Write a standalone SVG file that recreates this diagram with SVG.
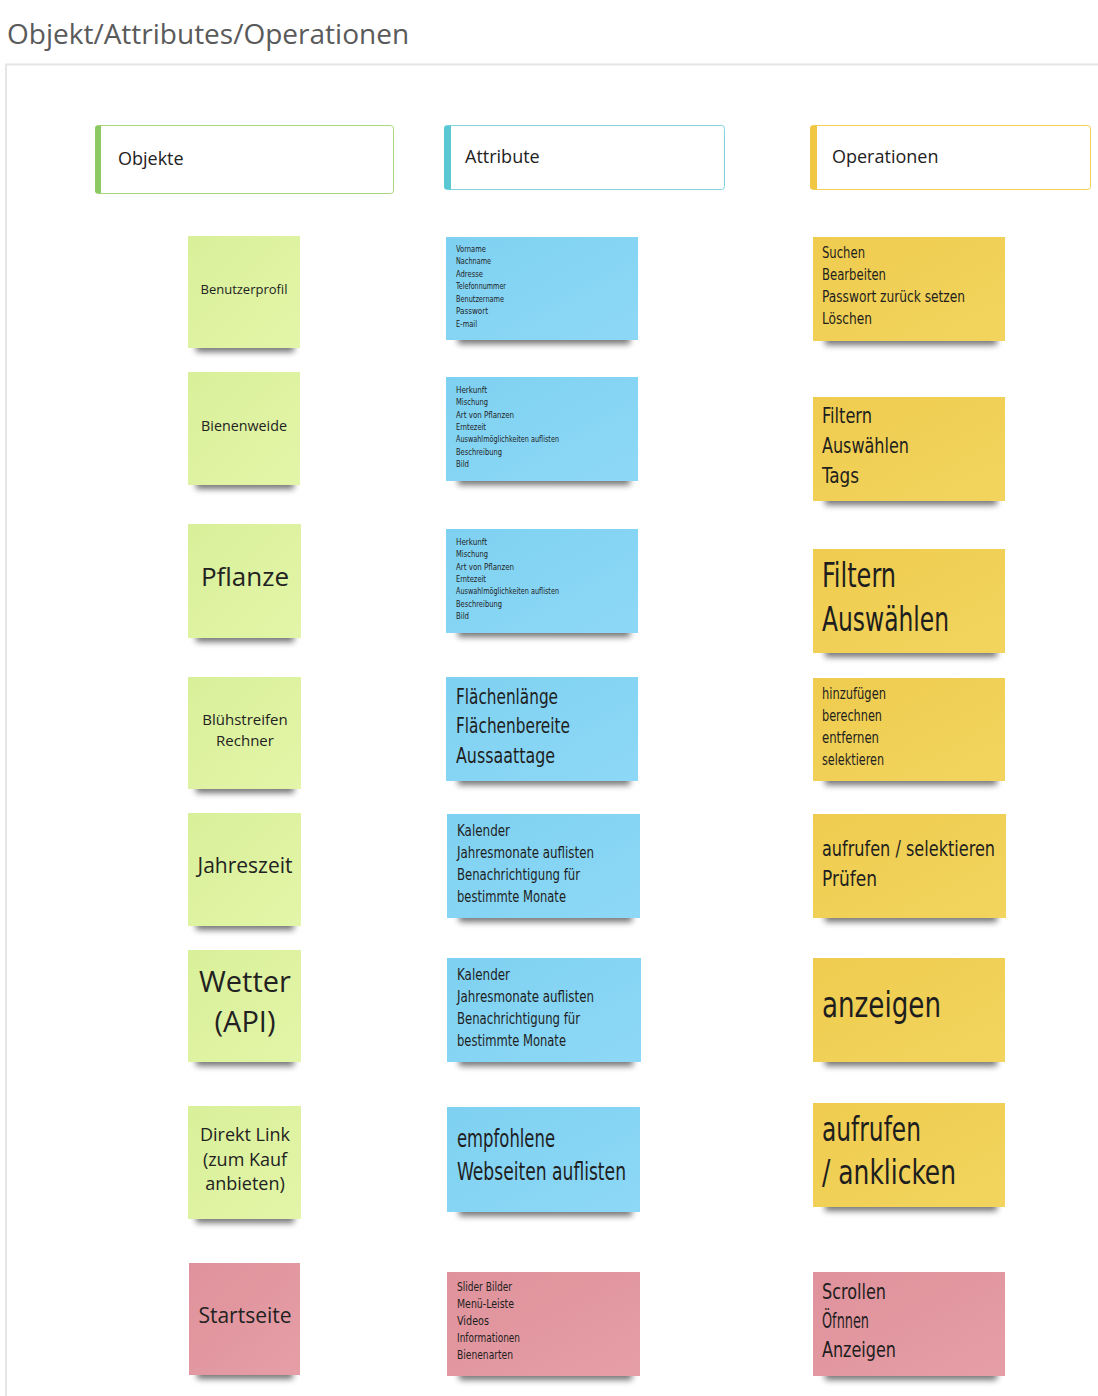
<svg xmlns="http://www.w3.org/2000/svg" width="1098" height="1396" viewBox="0 0 1098 1396">
<defs>
<filter id="sh" x="-20%" y="-100%" width="140%" height="300%"><feGaussianBlur stdDeviation="3"/></filter>
<linearGradient id="gG" x1="0" y1="0" x2="1" y2="1"><stop offset="0" stop-color="#d9f09a"/><stop offset="1" stop-color="#e3f5a8"/></linearGradient>
<linearGradient id="gB" x1="0" y1="0" x2="1" y2="1"><stop offset="0" stop-color="#7fd1f1"/><stop offset="1" stop-color="#8dd8f6"/></linearGradient>
<linearGradient id="gY" x1="0" y1="0" x2="1" y2="1"><stop offset="0" stop-color="#efcc4f"/><stop offset="1" stop-color="#f2d45e"/></linearGradient>
<linearGradient id="gP" x1="0" y1="0" x2="1" y2="1"><stop offset="0" stop-color="#df929b"/><stop offset="1" stop-color="#e69ea6"/></linearGradient>
<style>
.title{font-family:"Open Sans","Noto Sans",sans-serif;font-size:28px;fill:#5a5a5a}
.hdr{font-family:"Open Sans","Noto Sans",sans-serif;font-size:18px;fill:#222}
.sans{font-family:"Open Sans","Noto Sans",sans-serif;fill:#222;text-anchor:middle}
.hand{font-family:"DejaVu Sans Condensed","Liberation Sans Narrow","Liberation Sans",sans-serif;fill:#1e1e1e}
.hand text{font-weight:normal}
.shadow{fill:#000;opacity:0.55;filter:url(#sh)}
.g{fill:url(#gG)}
.b{fill:url(#gB)}
.y{fill:url(#gY)}
.p{fill:url(#gP)}
</style>
</defs>
<rect width="1098" height="1396" fill="#fff"/>
<text class="title" x="7" y="44">Objekt/Attributes/Operationen</text>
<path d="M6,1396 V64.5 H1098" fill="none" stroke="#e6e6e6" stroke-width="2"/>

<g id="hdr-objekte">
<rect x="95.5" y="125.5" width="298" height="68" rx="3" fill="#fff" stroke="#a9d97c"/>
<path d="M98,125.5 h3 v68 h-3 a3,3 0 0 1 -3,-3 v-62 a3,3 0 0 1 3,-3z" fill="#8cc963"/>
<text class="hdr" x="118" y="165">Objekte</text>
</g>
<g id="hdr-attribute">
<rect x="444.5" y="125.5" width="280" height="64" rx="3" fill="#fff" stroke="#7fd4df"/>
<path d="M447,125.5 h4 v64 h-4 a3,3 0 0 1 -3,-3 v-58 a3,3 0 0 1 3,-3z" fill="#5ac8d3"/>
<text class="hdr" x="465" y="163">Attribute</text>
</g>
<g id="hdr-operationen">
<rect x="810.5" y="125.5" width="280" height="64" rx="3" fill="#fff" stroke="#f2d15a"/>
<path d="M813,125.5 h4 v64 h-4 a3,3 0 0 1 -3,-3 v-58 a3,3 0 0 1 3,-3z" fill="#f2c744"/>
<text class="hdr" x="832" y="163">Operationen</text>
</g>

<!-- Column 1: Objekte -->
<g id="obj-benutzerprofil">
<rect class="shadow" x="196" y="342" width="98" height="10"/>
<rect class="g" x="188" y="236" width="112" height="112"/>
<text class="sans" x="244" y="294" font-size="13">Benutzerprofil</text>
</g>
<g id="obj-bienenweide">
<rect class="shadow" x="196" y="479" width="98" height="10"/>
<rect class="g" x="188" y="372" width="112" height="113"/>
<text class="sans" x="244" y="431" font-size="14.3">Bienenweide</text>
</g>
<g id="obj-pflanze">
<rect class="shadow" x="196" y="632" width="98" height="10"/>
<rect class="g" x="188" y="524" width="113" height="114"/>
<text class="sans" x="245" y="586" font-size="26">Pflanze</text>
</g>
<g id="obj-bluehstreifen">
<rect class="shadow" x="196" y="783" width="98" height="10"/>
<rect class="g" x="188" y="677" width="113" height="112"/>
<text class="sans" x="245" y="725" font-size="15">Blühstreifen</text>
<text class="sans" x="245" y="746" font-size="15">Rechner</text>
</g>
<g id="obj-jahreszeit">
<rect class="shadow" x="196" y="920" width="98" height="10"/>
<rect class="g" x="188" y="813" width="113" height="113"/>
<text class="sans" x="245" y="873" font-size="21">Jahreszeit</text>
</g>
<g id="obj-wetter">
<rect class="shadow" x="196" y="1056" width="98" height="10"/>
<rect class="g" x="188" y="950" width="113" height="112"/>
<text class="sans" x="245" y="992" font-size="29">Wetter</text>
<text class="sans" x="245" y="1032" font-size="29">(API)</text>
</g>
<g id="obj-direktlink">
<rect class="shadow" x="196" y="1213" width="98" height="10"/>
<rect class="g" x="188" y="1106" width="113" height="113"/>
<text class="sans" x="245" y="1141" font-size="18">Direkt Link</text>
<text class="sans" x="245" y="1166" font-size="18">(zum Kauf</text>
<text class="sans" x="245" y="1190" font-size="18">anbieten)</text>
</g>
<g id="obj-startseite">
<rect class="shadow" x="197" y="1369" width="96" height="10"/>
<rect class="p" x="189" y="1263" width="111" height="112"/>
<text class="sans" x="245" y="1323" font-size="21">Startseite</text>
</g>

<!-- Column 2: Attribute -->
<g id="attr-benutzerprofil">
<rect class="shadow" x="458" y="334" width="172" height="10"/>
<rect class="b" x="446" y="237" width="192" height="103"/>
<g class="hand" font-size="9.5">
<text x="456" y="251.5" textLength="30" lengthAdjust="spacingAndGlyphs">Vorname</text>
<text x="456" y="264" textLength="35" lengthAdjust="spacingAndGlyphs">Nachname</text>
<text x="456" y="276.5" textLength="27" lengthAdjust="spacingAndGlyphs">Adresse</text>
<text x="456" y="289" textLength="50" lengthAdjust="spacingAndGlyphs">Telefonnummer</text>
<text x="456" y="301.5" textLength="48" lengthAdjust="spacingAndGlyphs">Benutzername</text>
<text x="456" y="314" textLength="32" lengthAdjust="spacingAndGlyphs">Passwort</text>
<text x="456" y="326.5" textLength="21" lengthAdjust="spacingAndGlyphs">E-mail</text>
</g>
</g>
<g id="attr-bienenweide">
<rect class="shadow" x="458" y="475" width="172" height="10"/>
<rect class="b" x="446" y="377" width="192" height="104"/>
<g class="hand" font-size="9.5">
<text x="456" y="392.5" textLength="31" lengthAdjust="spacingAndGlyphs">Herkunft</text>
<text x="456" y="405" textLength="32" lengthAdjust="spacingAndGlyphs">Mischung</text>
<text x="456" y="417.5" textLength="58" lengthAdjust="spacingAndGlyphs">Art von Pflanzen</text>
<text x="456" y="429.5" textLength="30" lengthAdjust="spacingAndGlyphs">Erntezeit</text>
<text x="456" y="442" textLength="103" lengthAdjust="spacingAndGlyphs">Auswahlmöglichkeiten auflisten</text>
<text x="456" y="454.5" textLength="46" lengthAdjust="spacingAndGlyphs">Beschreibung</text>
<text x="456" y="467" textLength="13" lengthAdjust="spacingAndGlyphs">Bild</text>
</g>
</g>
<g id="attr-pflanze">
<rect class="shadow" x="458" y="627" width="172" height="10"/>
<rect class="b" x="446" y="529" width="192" height="104"/>
<g class="hand" font-size="9.5">
<text x="456" y="544.5" textLength="31" lengthAdjust="spacingAndGlyphs">Herkunft</text>
<text x="456" y="557" textLength="32" lengthAdjust="spacingAndGlyphs">Mischung</text>
<text x="456" y="569.5" textLength="58" lengthAdjust="spacingAndGlyphs">Art von Pflanzen</text>
<text x="456" y="581.5" textLength="30" lengthAdjust="spacingAndGlyphs">Erntezeit</text>
<text x="456" y="594" textLength="103" lengthAdjust="spacingAndGlyphs">Auswahlmöglichkeiten auflisten</text>
<text x="456" y="606.5" textLength="46" lengthAdjust="spacingAndGlyphs">Beschreibung</text>
<text x="456" y="619" textLength="13" lengthAdjust="spacingAndGlyphs">Bild</text>
</g>
</g>
<g id="attr-bluehstreifen">
<rect class="shadow" x="458" y="775" width="172" height="10"/>
<rect class="b" x="446" y="677" width="192" height="104"/>
<g class="hand" font-size="22">
<text x="456" y="704" textLength="102" lengthAdjust="spacingAndGlyphs">Flächenlänge</text>
<text x="456" y="733" textLength="114" lengthAdjust="spacingAndGlyphs">Flächenbereite</text>
<text x="456" y="763" textLength="99" lengthAdjust="spacingAndGlyphs">Aussaattage</text>
</g>
</g>
<g id="attr-jahreszeit">
<rect class="shadow" x="459" y="912" width="173" height="10"/>
<rect class="b" x="447" y="814" width="193" height="104"/>
<g class="hand" font-size="16">
<text x="457" y="836" textLength="53" lengthAdjust="spacingAndGlyphs">Kalender</text>
<text x="457" y="858" textLength="137" lengthAdjust="spacingAndGlyphs">Jahresmonate auflisten</text>
<text x="457" y="880" textLength="123" lengthAdjust="spacingAndGlyphs">Benachrichtigung für</text>
<text x="457" y="902" textLength="109" lengthAdjust="spacingAndGlyphs">bestimmte Monate</text>
</g>
</g>
<g id="attr-wetter">
<rect class="shadow" x="459" y="1056" width="174" height="10"/>
<rect class="b" x="447" y="958" width="194" height="104"/>
<g class="hand" font-size="16">
<text x="457" y="980" textLength="53" lengthAdjust="spacingAndGlyphs">Kalender</text>
<text x="457" y="1002" textLength="137" lengthAdjust="spacingAndGlyphs">Jahresmonate auflisten</text>
<text x="457" y="1024" textLength="123" lengthAdjust="spacingAndGlyphs">Benachrichtigung für</text>
<text x="457" y="1046" textLength="109" lengthAdjust="spacingAndGlyphs">bestimmte Monate</text>
</g>
</g>
<g id="attr-direktlink">
<rect class="shadow" x="459" y="1206" width="173" height="10"/>
<rect class="b" x="447" y="1107" width="193" height="105"/>
<g class="hand" font-size="25">
<text x="457" y="1147" textLength="98" lengthAdjust="spacingAndGlyphs">empfohlene</text>
<text x="457" y="1180" textLength="169" lengthAdjust="spacingAndGlyphs">Webseiten auflisten</text>
</g>
</g>
<g id="attr-startseite">
<rect class="shadow" x="459" y="1370" width="173" height="10"/>
<rect class="p" x="447" y="1272" width="193" height="104"/>
<g class="hand" font-size="12.5">
<text x="457" y="1291" textLength="55" lengthAdjust="spacingAndGlyphs">Slider Bilder</text>
<text x="457" y="1308" textLength="57" lengthAdjust="spacingAndGlyphs">Menü-Leiste</text>
<text x="457" y="1325" textLength="32" lengthAdjust="spacingAndGlyphs">Videos</text>
<text x="457" y="1342" textLength="63" lengthAdjust="spacingAndGlyphs">Informationen</text>
<text x="457" y="1359" textLength="56" lengthAdjust="spacingAndGlyphs">Bienenarten</text>
</g>
</g>

<!-- Column 3: Operationen -->
<g id="op-benutzerprofil">
<rect class="shadow" x="825" y="335" width="172" height="10"/>
<rect class="y" x="813" y="237" width="192" height="104"/>
<g class="hand" font-size="16">
<text x="822" y="258" textLength="43" lengthAdjust="spacingAndGlyphs">Suchen</text>
<text x="822" y="280" textLength="64" lengthAdjust="spacingAndGlyphs">Bearbeiten</text>
<text x="822" y="302" textLength="143" lengthAdjust="spacingAndGlyphs">Passwort zurück setzen</text>
<text x="822" y="324" textLength="50" lengthAdjust="spacingAndGlyphs">Löschen</text>
</g>
</g>
<g id="op-bienenweide">
<rect class="shadow" x="825" y="495" width="172" height="10"/>
<rect class="y" x="813" y="397" width="192" height="104"/>
<g class="hand" font-size="22">
<text x="822" y="423" textLength="50" lengthAdjust="spacingAndGlyphs">Filtern</text>
<text x="822" y="453" textLength="87" lengthAdjust="spacingAndGlyphs">Auswählen</text>
<text x="822" y="483" textLength="37" lengthAdjust="spacingAndGlyphs">Tags</text>
</g>
</g>
<g id="op-pflanze">
<rect class="shadow" x="825" y="647" width="172" height="10"/>
<rect class="y" x="813" y="549" width="192" height="104"/>
<g class="hand" font-size="34">
<text x="822" y="587" textLength="74" lengthAdjust="spacingAndGlyphs">Filtern</text>
<text x="822" y="631" textLength="127" lengthAdjust="spacingAndGlyphs">Auswählen</text>
</g>
</g>
<g id="op-bluehstreifen">
<rect class="shadow" x="825" y="775" width="172" height="10"/>
<rect class="y" x="813" y="678" width="192" height="103"/>
<g class="hand" font-size="16">
<text x="822" y="699" textLength="64" lengthAdjust="spacingAndGlyphs">hinzufügen</text>
<text x="822" y="721" textLength="60" lengthAdjust="spacingAndGlyphs">berechnen</text>
<text x="822" y="743" textLength="57" lengthAdjust="spacingAndGlyphs">entfernen</text>
<text x="822" y="765" textLength="62" lengthAdjust="spacingAndGlyphs">selektieren</text>
</g>
</g>
<g id="op-jahreszeit">
<rect class="shadow" x="825" y="912" width="172" height="10"/>
<rect class="y" x="813" y="814" width="193" height="104"/>
<g class="hand" font-size="22">
<text x="822" y="856" textLength="173" lengthAdjust="spacingAndGlyphs">aufrufen / selektieren</text>
<text x="822" y="886" textLength="55" lengthAdjust="spacingAndGlyphs">Prüfen</text>
</g>
</g>
<g id="op-wetter">
<rect class="shadow" x="825" y="1056" width="172" height="10"/>
<rect class="y" x="813" y="958" width="192" height="104"/>
<text class="hand" x="822" y="1017" font-size="36" textLength="119" lengthAdjust="spacingAndGlyphs">anzeigen</text>
</g>
<g id="op-direktlink">
<rect class="shadow" x="825" y="1201" width="172" height="10"/>
<rect class="y" x="813" y="1103" width="192" height="104"/>
<g class="hand" font-size="33">
<text x="822" y="1141" textLength="99" lengthAdjust="spacingAndGlyphs">aufrufen</text>
<text x="822" y="1184" textLength="134" lengthAdjust="spacingAndGlyphs">/ anklicken</text>
</g>
</g>
<g id="op-startseite">
<rect class="shadow" x="825" y="1370" width="172" height="10"/>
<rect class="p" x="813" y="1272" width="192" height="104"/>
<g class="hand" font-size="22">
<text x="822" y="1299" textLength="64" lengthAdjust="spacingAndGlyphs">Scrollen</text>
<text x="822" y="1328" textLength="47" lengthAdjust="spacingAndGlyphs">Öfnnen</text>
<text x="822" y="1357" textLength="74" lengthAdjust="spacingAndGlyphs">Anzeigen</text>
</g>
</g>
</svg>
